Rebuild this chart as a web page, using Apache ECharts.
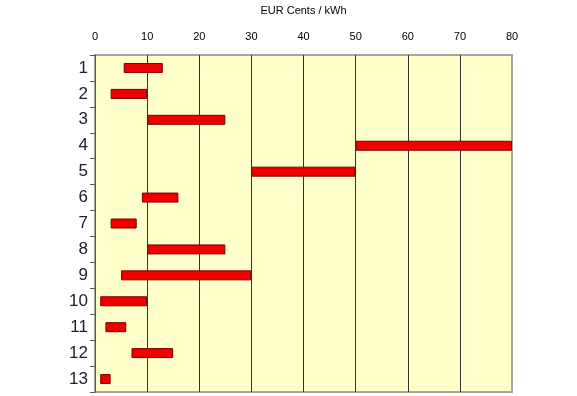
<!DOCTYPE html>
<html>
<head>
<meta charset="utf-8">
<script src="https://cdn.jsdelivr.net/npm/echarts@6/dist/echarts.min.js"></script>
<style>html,body{margin:0;padding:0;background:#fff;}#c{width:577px;height:396px;}</style>
</head>
<body>
<div id="c"></div>
<script>
const categories = ['1','2','3','4','5','6','7','8','9','10','11','12','13'];
const rangeStart = [5.5, 3, 10, 50, 30, 9, 3, 10, 5, 1, 2, 7, 1];
const rangeEnd   = [13, 10, 25, 80, 50, 16, 8, 25, 30, 10, 6, 15, 3];
const xTicks = { min: 0, max: 80, interval: 10 };
const axisTitle = 'EUR Cents / kWh';

const chart = echarts.init(document.getElementById('c'), null, { renderer: 'canvas' });
const gridLineColors = ['#555', '#333', '#333', '#333', '#333', '#333', '#333', '#333', '#a8a898'];

chart.setOption({
  animation: false,
  backgroundColor: '#ffffff',
  grid: {
    left: 95, right: 65, top: 50, bottom: 4,
    show: true, backgroundColor: '#FFFFCC', borderColor: '#a8a898', borderWidth: 2
  },
  xAxis: {
    type: 'value', position: 'top',
    min: xTicks.min, max: xTicks.max, interval: xTicks.interval,
    name: axisTitle, nameLocation: 'middle', nameGap: 39,
    nameTextStyle: { fontFamily: 'Liberation Sans, Arial', fontSize: 11, color: '#000' },
    axisLine: { show: false },
    axisTick: { show: false },
    axisLabel: { fontFamily: 'Liberation Sans, Arial', fontSize: 11, color: '#000', margin: 13 },
    splitLine: { show: true, lineStyle: { color: gridLineColors, width: 1 } }
  },
  yAxis: {
    type: 'category', inverse: true, data: categories,
    axisLine: { show: true, lineStyle: { color: '#555', width: 1 } },
    axisTick: { show: true, length: 5, lineStyle: { color: '#555' } },
    axisLabel: { fontFamily: 'Liberation Sans, Arial', fontSize: 17, color: '#222', margin: 7 },
    splitLine: { show: false }
  },
  series: [
    {
      type: 'bar', stack: 'r', barWidth: 10, silent: true,
      itemStyle: { color: 'transparent' },
      data: rangeStart
    },
    {
      type: 'bar', stack: 'r', barWidth: 10,
      itemStyle: { color: '#EE0000', borderColor: '#7a0000', borderWidth: 1 },
      data: rangeEnd.map((e, i) => e - rangeStart[i])
    }
  ]
});
</script>
</body>
</html>
